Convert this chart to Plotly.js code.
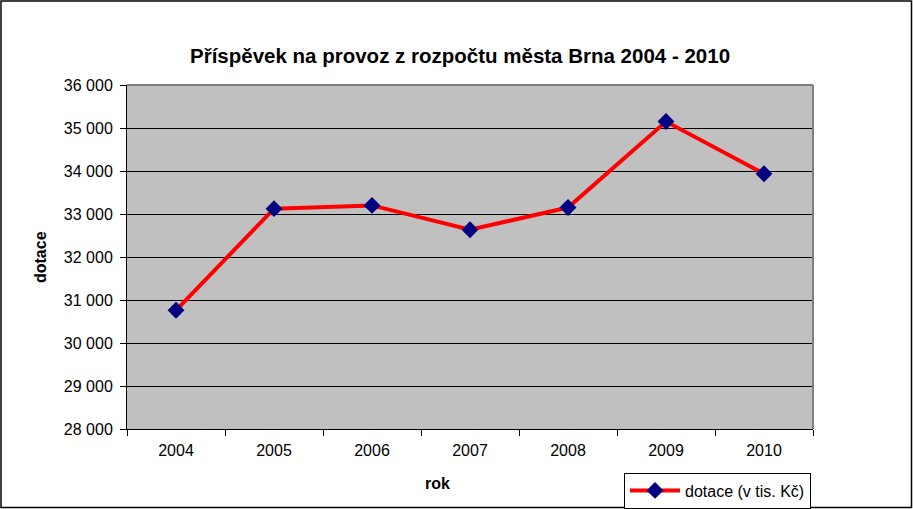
<!DOCTYPE html>
<html><head><meta charset="utf-8">
<script src="https://cdn.plot.ly/plotly-3.0.1.min.js"></script>
<style>html,body{margin:0;padding:0;background:#fff}#chart{width:913px;height:509px}</style>
</head><body><div id="chart"></div>
<script>
const years = ['2004','2005','2006','2007','2008','2009','2010'];
const dotace = [30760, 33125, 33200, 32635, 33150, 35150, 33935];
const seriesName = 'dotace (v tis. Kč)';
const titleText = 'Příspěvek na provoz z rozpočtu města Brna 2004 - 2010';

const W = 913, H = 509;
const m = {l:127, r:100, t:85, b:80, autoexpand: false};
const pw = W - m.l - m.r, ph = H - m.t - m.b;
const font = 'Liberation Sans, Arial, sans-serif';

const trace = {
  x: years, y: dotace, type: 'scatter', mode: 'lines+markers', name: seriesName,
  line: {color: '#FF0000', width: 4},
  marker: {symbol: 'diamond', size: 13, color: '#000080', line: {width: 0}}
};

const layout = {
  width: W, height: H,
  margin: m,
  paper_bgcolor: '#FFFFFF', plot_bgcolor: '#C0C0C0',
  separators: ', ',
  font: {family: font, size: 16, color: '#000'},
  showlegend: true,
  legend: {x: (624 - m.l)/pw, y: 1 - (490.5 - m.t)/ph, xanchor: 'left', yanchor: 'middle',
           bgcolor: '#FFFFFF', bordercolor: '#000', borderwidth: 1,
           font: {family: font, size: 16}, itemwidth: 50, tracegroupgap: 0},
  xaxis: {type: 'category', range: [-0.5, 6.5], showgrid: false, zeroline: false,
          showline: true, linecolor: '#000', linewidth: 1,
          ticks: 'outside', ticklen: 6, tickcolor: '#000', tickson: 'boundaries',
          ticklabelstandoff: 7,
          tickfont: {family: font, size: 16}, fixedrange: true},
  yaxis: {range: [28000, 36000], dtick: 1000, tick0: 28000, tickformat: ',d',
          showgrid: true, gridcolor: '#000', gridwidth: 1, zeroline: false,
          showline: true, linecolor: '#000', linewidth: 1,
          ticks: 'outside', ticklen: 6, tickcolor: '#000',
          ticklabelstandoff: 4,
          tickfont: {family: font, size: 16}, fixedrange: true},
  annotations: [
    {text: '<b>' + titleText + '</b>', xref: 'paper', yref: 'paper',
     x: (460 - m.l)/pw, y: (H - m.b - 55)/ph, xanchor: 'center', yanchor: 'middle',
     showarrow: false, font: {family: font, size: 20.5}},
    {text: '<b>dotace</b>', xref: 'paper', yref: 'paper',
     x: (40 - m.l)/pw, y: 0.5, xanchor: 'center', yanchor: 'middle', textangle: -90,
     showarrow: false, font: {family: font, size: 16}},
    {text: '<b>rok</b>', xref: 'paper', yref: 'paper',
     x: (437 - m.l)/pw, y: -(483 - m.t - ph)/ph, xanchor: 'center', yanchor: 'middle',
     showarrow: false, font: {family: font, size: 16}}
  ],
  shapes: [
    {type: 'line', xref: 'paper', yref: 'paper', x0: 0, x1: 1, y0: 1, y1: 1,
     line: {color: '#808080', width: 2}},
    {type: 'line', xref: 'paper', yref: 'paper', x0: 1, x1: 1, y0: 0, y1: 1,
     line: {color: '#808080', width: 2}},
    {type: 'rect', xref: 'paper', yref: 'paper',
     x0: (1 - m.l)/pw, x1: 1 + (m.r - 1.5)/pw, y0: -(m.b - 1.5)/ph, y1: 1 + (m.t - 1)/ph,
     line: {color: '#000', width: 1.5}, fillcolor: 'rgba(0,0,0,0)'}
  ]
};

Plotly.newPlot('chart', [trace], layout, {displayModeBar: false, staticPlot: true});
</script></body></html>
